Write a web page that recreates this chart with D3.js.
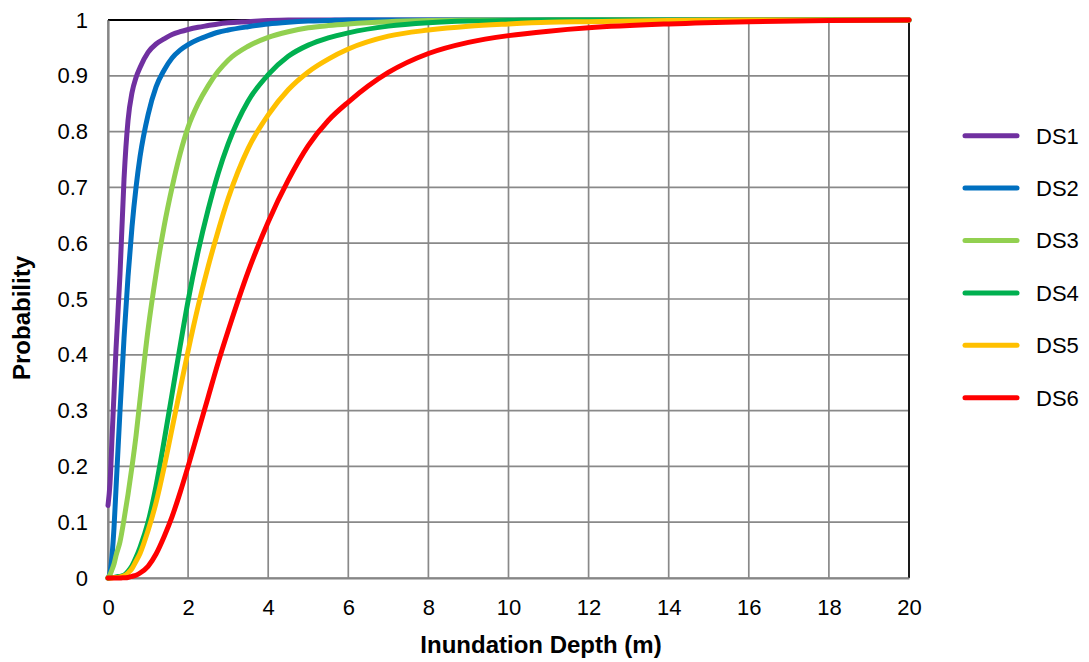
<!DOCTYPE html>
<html>
<head>
<meta charset="utf-8">
<script src="https://cdn.jsdelivr.net/npm/d3@7"></script>
<style>
  html, body { margin: 0; padding: 0; background: #fff; }
  svg { display: block; font-family: "Liberation Sans", Arial, sans-serif; }
</style>
</head>
<body>
<svg id="chart" width="1089" height="662"></svg>
<script>
// ---- data ----
const depth = [0, 0.05, 0.1, 0.15, 0.2, 0.3, 0.4, 0.5, 0.6, 0.7, 0.8, 1.0, 1.2, 1.4, 1.6, 1.8, 2.0, 2.25, 2.5, 2.75, 3, 3.5, 4, 4.5, 5, 5.5, 6, 7, 8, 9, 10, 11, 12, 14, 16, 18, 20];

const ds1 = [0.13, 0.17, 0.25, 0.33, 0.41, 0.545, 0.715, 0.82, 0.87, 0.897, 0.915, 0.942, 0.957, 0.966, 0.974, 0.979, 0.983, 0.987, 0.99, 0.993, 0.995, 0.997, 0.999, 1, 1, 1, 1, 1, 1, 1, 1, 1, 1, 1, 1, 1, 1];
const ds2 = [0, 0.01, 0.04, 0.09, 0.16, 0.30, 0.43, 0.54, 0.63, 0.70, 0.755, 0.83, 0.88, 0.91, 0.932, 0.946, 0.956, 0.965, 0.972, 0.978, 0.982, 0.988, 0.993, 0.996, 0.998, 0.999, 1, 1, 1, 1, 1, 1, 1, 1, 1, 1, 1];
const ds3 = [0, 0.006, 0.015, 0.025, 0.04, 0.065, 0.105, 0.15, 0.2, 0.255, 0.32, 0.445, 0.545, 0.63, 0.70, 0.76, 0.808, 0.85, 0.882, 0.908, 0.928, 0.953, 0.969, 0.979, 0.986, 0.99, 0.993, 0.997, 0.999, 1, 1, 1, 1, 1, 1, 1, 1];
const ds4 = [0, 0, 0.001, 0.001, 0.002, 0.003, 0.005, 0.012, 0.022, 0.037, 0.055, 0.10, 0.165, 0.245, 0.33, 0.415, 0.497, 0.585, 0.66, 0.725, 0.778, 0.855, 0.902, 0.935, 0.955, 0.968, 0.977, 0.989, 0.995, 0.998, 0.999, 1, 1, 1, 1, 1, 1];
const ds5 = [0, 0, 0, 0.001, 0.001, 0.002, 0.004, 0.009, 0.017, 0.03, 0.044, 0.085, 0.135, 0.198, 0.268, 0.338, 0.407, 0.487, 0.558, 0.622, 0.68, 0.77, 0.83, 0.875, 0.907, 0.93, 0.948, 0.971, 0.982, 0.989, 0.993, 0.996, 0.997, 0.999, 1, 1, 1];
const ds6 = [0, 0, 0, 0, 0, 0, 0.0005, 0.001, 0.003, 0.005, 0.009, 0.021, 0.043, 0.074, 0.11, 0.153, 0.2, 0.262, 0.324, 0.386, 0.443, 0.549, 0.638, 0.713, 0.775, 0.82, 0.853, 0.906, 0.94, 0.96, 0.972, 0.98, 0.986, 0.993, 0.997, 0.999, 1];

const seriesNames = ["DS1", "DS2", "DS3", "DS4", "DS5", "DS6"];
const seriesValues = [ds1, ds2, ds3, ds4, ds5, ds6];
const seriesColors = ["#7030A0", "#0070C0", "#92D050", "#00B050", "#FFC000", "#FF0000"];

const xTicks = [0, 2, 4, 6, 8, 10, 12, 14, 16, 18, 20];
const yTicks = [0, 0.1, 0.2, 0.3, 0.4, 0.5, 0.6, 0.7, 0.8, 0.9, 1];
const yTickLabels = ["0", "0.1", "0.2", "0.3", "0.4", "0.5", "0.6", "0.7", "0.8", "0.9", "1"];

const xTitle = "Inundation Depth (m)";
const yTitle = "Probability";

// ---- layout ----
const svg = d3.select("#chart");
const plotL = 108, plotR = 909, plotT = 20, plotB = 578;

const x = d3.scaleLinear().domain([0, 20]).range([plotL, plotR]);
const y = d3.scaleLinear().domain([0, 1]).range([plotB, plotT]);

const gridColor = "#898989";

// horizontal grid
svg.append("g")
  .selectAll("line")
  .data(yTicks)
  .join("line")
  .attr("x1", plotL).attr("x2", plotR)
  .attr("y1", d => y(d)).attr("y2", d => y(d))
  .attr("stroke", gridColor).attr("stroke-width", 1.7);

// vertical grid
svg.append("g")
  .selectAll("line")
  .data(xTicks)
  .join("line")
  .attr("x1", d => x(d)).attr("x2", d => x(d))
  .attr("y1", plotT).attr("y2", plotB)
  .attr("stroke", gridColor).attr("stroke-width", 1.7);

// frame: top and right dark
svg.append("line").attr("x1", plotL).attr("x2", plotR).attr("y1", plotT).attr("y2", plotT)
  .attr("stroke", "#000").attr("stroke-width", 2);
svg.append("line").attr("x1", plotR).attr("x2", plotR).attr("y1", plotT).attr("y2", plotB)
  .attr("stroke", "#1a1a1a").attr("stroke-width", 2);

// axes
const xAxis = d3.axisBottom(x).tickValues(xTicks).tickSize(0).tickPadding(21).tickFormat(d3.format("d"));
const yAxis = d3.axisLeft(y).tickValues(yTicks).tickSize(0).tickPadding(20)
  .tickFormat((d, i) => yTickLabels[i]);

const gx = svg.append("g").attr("transform", `translate(0,${plotB})`).call(xAxis);
const gy = svg.append("g").attr("transform", `translate(${plotL},0)`).call(yAxis);
[gx, gy].forEach(g => {
  g.select(".domain").attr("stroke", "#868686").attr("stroke-width", 2.2);
  g.selectAll("text").attr("font-size", 22).attr("fill", "#000")
    .attr("font-family", "'Liberation Sans', Arial, sans-serif");
});

// series lines
const line = d3.line()
  .x((d, i) => x(depth[i]))
  .y(d => y(d))
  .curve(d3.curveMonotoneX);

svg.append("g")
  .selectAll("path")
  .data(seriesValues)
  .join("path")
  .attr("d", d => line(d))
  .attr("fill", "none")
  .attr("stroke", (d, i) => seriesColors[i])
  .attr("stroke-width", 5)
  .attr("stroke-linejoin", "round")
  .attr("stroke-linecap", "round");

// axis titles
svg.append("text")
  .attr("x", 541).attr("y", 653)
  .attr("text-anchor", "middle")
  .attr("font-size", 24).attr("font-weight", "bold")
  .text(xTitle);

svg.append("text")
  .attr("transform", "translate(30,318) rotate(-90)")
  .attr("text-anchor", "middle")
  .attr("font-size", 24).attr("font-weight", "bold")
  .text(yTitle);

// legend
const legendY = d3.scalePoint().domain(seriesNames).range([135.7, 397.7]);
const lg = svg.append("g")
  .selectAll("g")
  .data(seriesNames)
  .join("g")
  .attr("transform", d => `translate(0,${legendY(d)})`);
lg.append("line")
  .attr("x1", 965).attr("x2", 1017).attr("y1", 0).attr("y2", 0)
  .attr("stroke", (d, i) => seriesColors[i])
  .attr("stroke-width", 5).attr("stroke-linecap", "round");
lg.append("text")
  .attr("x", 1036).attr("y", 0).attr("dy", "0.36em")
  .attr("font-size", 22)
  .text(d => d);
</script>
</body>
</html>
